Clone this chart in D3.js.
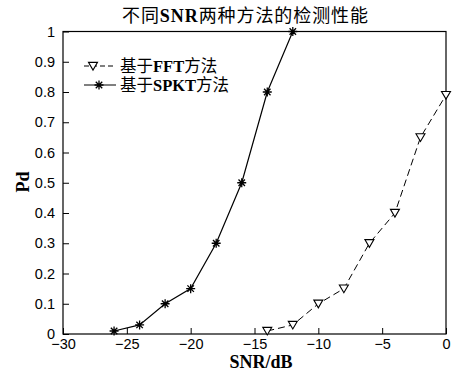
<!DOCTYPE html>
<html>
<head>
<meta charset="utf-8">
<script src="https://cdn.jsdelivr.net/npm/d3@7"></script>
<style>
  html, body { margin: 0; padding: 0; background: #fff; }
  svg { display: block; }
</style>
</head>
<body>
<div id="chart"></div>
<script>
// SNR sweep (dB) and detection probability for each method
const snrSPKT = [-26, -24, -22, -20, -18, -16, -14, -12];
const pdSPKT  = [0.01, 0.03, 0.10, 0.15, 0.30, 0.50, 0.80, 1.00];
const snrFFT  = [-14, -12, -10, -8, -6, -4, -2, 0];
const pdFFT   = [0.01, 0.03, 0.10, 0.15, 0.30, 0.40, 0.65, 0.79];
const xTicks  = [-30, -25, -20, -15, -10, -5, 0];
const yTicks  = [0, 0.1, 0.2, 0.3, 0.4, 0.5, 0.6, 0.7, 0.8, 0.9, 1];
const legendLabels = ["基于FFT方法", "基于SPKT方法"];
const titleText = "不同SNR两种方法的检测性能";

const W = 456, H = 373;
const plot = { left: 63, right: 446, top: 31.5, bottom: 334 };

const serif = "'Liberation Serif', 'Times New Roman', 'Noto Sans CJK SC', serif";
const sans = "'Liberation Sans', Arial, sans-serif";

const svg = d3.select("#chart").append("svg")
  .attr("width", W).attr("height", H);

const x = d3.scaleLinear().domain([-30, 0]).range([plot.left, plot.right]);
const y = d3.scaleLinear().domain([0, 1]).range([plot.bottom, plot.top]);

// Inward ticks on the left and bottom axes
const xAxis = d3.axisBottom(x).tickValues(xTicks).tickSizeInner(-6).tickSizeOuter(0)
  .tickPadding(5).tickFormat(d3.format("d"));
const yAxis = d3.axisLeft(y).tickValues(yTicks).tickSizeInner(-6).tickSizeOuter(0)
  .tickPadding(8).tickFormat(d => d === 0 || d === 1 ? String(d) : d3.format(".1f")(d));

const gx = svg.append("g").attr("transform", `translate(0,${plot.bottom})`).call(xAxis);
const gy = svg.append("g").attr("transform", `translate(${plot.left},0)`).call(yAxis);
[gx, gy].forEach(g => {
  g.select(".domain").remove();
  g.selectAll(".tick line").attr("stroke", "#000").attr("stroke-width", 1);
  g.selectAll(".tick text").attr("fill", "#000")
    .style("font-family", sans).style("font-size", "14.5px");
});

// Plot box
svg.append("rect")
  .attr("x", plot.left).attr("y", plot.top)
  .attr("width", plot.right - plot.left).attr("height", plot.bottom - plot.top)
  .attr("fill", "none").attr("stroke", "#000").attr("stroke-width", 1.2);

const line = d3.line().x(d => x(d[0])).y(d => y(d[1]));
const fftData = snrFFT.map((s, i) => [s, pdFFT[i]]);
const spktData = snrSPKT.map((s, i) => [s, pdSPKT[i]]);

svg.append("path").datum(fftData).attr("d", line)
  .attr("fill", "none").attr("stroke", "#000").attr("stroke-width", 1)
  .attr("stroke-dasharray", "7,4");
svg.append("path").datum(spktData).attr("d", line)
  .attr("fill", "none").attr("stroke", "#000").attr("stroke-width", 1.2);

// Marker shapes
function triangleDown(g, cx, cy) {
  const s = 4.5;
  g.append("path")
    .attr("d", `M${cx - s},${cy - s * 0.8} L${cx + s},${cy - s * 0.8} L${cx},${cy + s * 0.9} Z`)
    .attr("fill", "#fff").attr("stroke", "#000").attr("stroke-width", 1.1);
}
function asterisk(g, cx, cy) {
  const s = 4.5, d = s * 0.72;
  g.append("path")
    .attr("d", `M${cx - s},${cy} L${cx + s},${cy} M${cx},${cy - s} L${cx},${cy + s}` +
      ` M${cx - d},${cy - d} L${cx + d},${cy + d} M${cx - d},${cy + d} L${cx + d},${cy - d}`)
    .attr("fill", "none").attr("stroke", "#000").attr("stroke-width", 1.3);
}

const marks = svg.append("g");
fftData.forEach(d => triangleDown(marks, x(d[0]), y(d[1])));
spktData.forEach(d => asterisk(marks, x(d[0]), y(d[1])));

// Mixed-script text: CJK runs in regular weight, Latin runs in bold serif
function mixedText(sel, str) {
  const parts = str.match(/[A-Za-z\/]+|[^A-Za-z\/]+/g);
  parts.forEach(p => {
    const latin = /[A-Za-z]/.test(p);
    sel.append("tspan")
      .style("font-weight", latin ? "bold" : "normal")
      .text(p);
  });
  return sel;
}

// Legend
const legend = svg.append("g");
const rows = [
  { label: legendLabels[0], cy: 66, dash: "5,3", marker: triangleDown, mx: 93 },
  { label: legendLabels[1], cy: 85, dash: null, marker: asterisk, mx: 99 }
];
rows.forEach(r => {
  const ln = legend.append("line")
    .attr("x1", 84).attr("x2", 116).attr("y1", r.cy).attr("y2", r.cy)
    .attr("stroke", "#000").attr("stroke-width", 1);
  if (r.dash) ln.attr("stroke-dasharray", r.dash);
  r.marker(legend, r.mx, r.cy);
  const t = legend.append("text")
    .attr("x", 120).attr("y", r.cy + 5.5)
    .style("font-family", serif).style("font-size", "16.5px");
  mixedText(t, r.label);
});

// Title and axis labels
const title = svg.append("text")
  .attr("x", 122).attr("y", 22)
  .attr("textLength", 246).attr("lengthAdjust", "spacing")
  .style("font-family", serif).style("font-size", "18px");
mixedText(title, titleText);

svg.append("text")
  .attr("x", 261).attr("y", 368)
  .attr("text-anchor", "middle")
  .style("font-family", serif).style("font-size", "18px").style("font-weight", "bold")
  .text("SNR/dB");

svg.append("text")
  .attr("transform", `translate(29,182) rotate(-90)`)
  .attr("text-anchor", "middle")
  .style("font-family", serif).style("font-size", "18px").style("font-weight", "bold")
  .text("Pd");
</script>
</body>
</html>
